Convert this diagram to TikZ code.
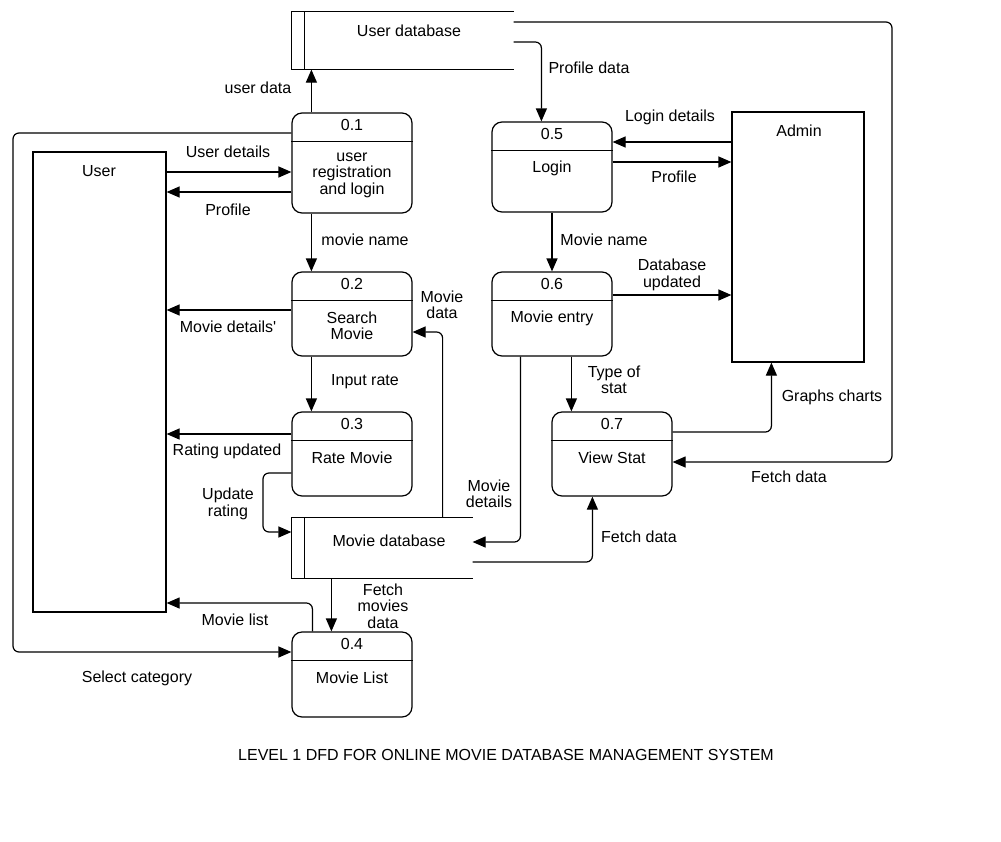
\documentclass[tikz,border=0pt]{standalone}
\usepackage{fontspec}
\setmainfont{Liberation Sans}
\usetikzlibrary{arrows.meta}

\begin{document}
\begin{tikzpicture}[x=1pt, y=-1pt, line width=1.2pt,
  every node/.style={font=\fontsize{16}{16.5}\selectfont, inner sep=0pt, align=center},
  proc/.style={draw, rounded corners=10pt, minimum width=120pt},
  ent/.style={draw, minimum width=133pt},
  store/.style={minimum width=221pt, minimum height=57pt},
  flow/.style={-{Triangle[length=13pt,width=11pt]}, rounded corners=6pt}]
\useasboundingbox[fill=white] (0,0) rectangle (1001,841);

\node[ent, minimum height=460pt] (user) at (99.5,382) {};
\node (usert) at (99,171) {User};
\node[ent, minimum width=132pt, minimum height=250pt] (admin) at (798,237) {};
\node (admint) at (799,131) {Admin};

\node[store] (udb) at (402.5,40.5) {};
\draw (udb.north east) -- (udb.north west) -- (udb.south west) -- (udb.south east);
\draw ([xshift=13pt]udb.north west) -- ([xshift=13pt]udb.south west);
\node (udbt) at (409,31) {User database};
\node[store, minimum width=180pt, minimum height=60pt] (mdb) at (382,548) {};
\draw (mdb.north east) -- (mdb.north west) -- (mdb.south west) -- (mdb.south east);
\draw ([xshift=13pt]mdb.north west) -- ([xshift=13pt]mdb.south west);
\node (mdbt) at (389,541) {Movie database};

\node[proc, minimum height=100pt] (p1) at (352,163) {};
\draw ([yshift=-29pt]p1.north west) -- ([yshift=-29pt]p1.north east);
\node (p1n) at ([yshift=-13pt]p1.north) {0.1};
\node (p1t) at (352,175) {user\\registration\\and login};
\node[proc, minimum height=84pt] (p2) at (352,314) {};
\draw ([yshift=-29pt]p2.north west) -- ([yshift=-29pt]p2.north east);
\node (p2n) at ([yshift=-13pt]p2.north) {0.2};
\node (p2t) at (352,326) {Search\\Movie};
\node[proc, minimum height=84pt] (p3) at (352,454) {};
\draw ([yshift=-29pt]p3.north west) -- ([yshift=-29pt]p3.north east);
\node (p3n) at ([yshift=-13pt]p3.north) {0.3};
\node (p3t) at (352,458) {Rate Movie};
\node[proc, minimum height=85pt] (p4) at (352,674.5) {};
\draw ([yshift=-29pt]p4.north west) -- ([yshift=-29pt]p4.north east);
\node (p4n) at ([yshift=-13pt]p4.north) {0.4};
\node (p4t) at (352,678) {Movie List};
\node[proc, minimum height=90pt] (p5) at (552,167) {};
\draw ([yshift=-29pt]p5.north west) -- ([yshift=-29pt]p5.north east);
\node (p5n) at ([yshift=-13pt]p5.north) {0.5};
\node (p5t) at (552,168) {Login};
\node[proc, minimum height=84pt] (p6) at (552,314) {};
\draw ([yshift=-29pt]p6.north west) -- ([yshift=-29pt]p6.north east);
\node (p6n) at ([yshift=-13pt]p6.north) {0.6};
\node (p6t) at (552,318) {Movie entry};
\node[proc, minimum height=84pt] (p7) at (612,454) {};
\draw ([yshift=-29pt]p7.north west) -- ([yshift=-29pt]p7.north east);
\node (p7n) at ([yshift=-13pt]p7.north) {0.7};
\node (p7t) at (612,458) {View Stat};

\draw[flow] ([xshift=20pt]p1.north west) -- ([xshift=20pt]p1.north west |- udb.south);
\draw[flow] (user.east |- 0,172) -- (p1.west |- 0,172);
\draw[flow] (p1.west |- 0,192) -- (user.east |- 0,192);
\draw[flow] ([xshift=20pt]p1.south west) -- ([xshift=20pt]p2.north west);
\draw[flow] (p2.west |- 0,310) -- (user.east |- 0,310);
\draw[flow] ([xshift=20pt]p2.south west) -- ([xshift=20pt]p3.north west);
\draw[flow] (p3.west |- 0,434) -- (user.east |- 0,434);
\draw[flow] (p3.west |- 0,473) -| (263,500) |- (mdb.west |- 0,532);
\draw[flow] ([xshift=-30pt]mdb.north east) |- (p2.east |- 0,332);
\draw[flow] ([xshift=40pt]mdb.south west) -- ([xshift=40pt]p4.north west);
\draw[flow] ([xshift=21pt]p4.north west) |- (user.east |- 0,603);
\draw[flow] (p1.west |- 0,133) -| (13,400) |- (p4.west |- 0,652);
\draw[flow] (udb.east |- 0,42) -| ([xshift=50pt]p5.north west);
\draw[flow] (admin.west |- 0,142) -- (p5.east |- 0,142);
\draw[flow] (p5.east |- 0,162) -- (admin.west |- 0,162);
\draw[flow] (p5.south) -- (p6.north);
\draw[flow] (p6.east |- 0,295) -- (admin.west |- 0,295);
\draw[flow] ([xshift=29pt]p6.south west) |- (mdb.east |- 0,542);
\draw[flow] ([xshift=80pt]p6.south west) -- ([xshift=20pt]p7.north west);
\draw[flow] (p7.east |- 0,432) -| ([xshift=40pt]admin.south west);
\draw[flow] (udb.east |- 0,22) -| (892,300) |- (p7.east |- 0,462);
\draw[flow] (mdb.east |- 0,562) -| ([xshift=41pt]p7.south west);

\node (lUserData) at (258,88) {user data};
\node (lUserDetails) at (228,152) {User details};
\node (lProfile) at (228,210) {Profile};
\node (lMovieName) at (365,240) {movie name};
\node (lMovieDetailsU) at (228,327) {Movie details\textquotesingle};
\node (lMovieData) at (442,305) {Movie\\data};
\node (lInputRate) at (365,382) {Input rate};
\node (lRatingUpd) at (227,451) {Rating updated};
\node (lUpdateRating) at (228,504) {Update\\rating};
\node (lFetchMovies) at (383,606) {Fetch\\movies\\data};
\node (lMovieList) at (235,620) {Movie list};
\node (lSelectCat) at (137,678) {Select category};
\node (lProfileData) at (589,68) {Profile data};
\node (lLoginDetails) at (670,117) {Login details};
\node (lProfileA) at (674,177) {Profile};
\node (lMovieNameA) at (604,240) {Movie name};
\node (lDbUpdated) at (672,275) {Database\\updated};
\node (lMovieDetails) at (489,494) {Movie\\details};
\node (lTypeStat) at (614,380) {Type of\\stat};
\node (lGraphs) at (832,397) {Graphs charts};
\node (lFetchData) at (789,477) {Fetch data};
\node (lFetchDataB) at (639,537) {Fetch data};

\node (title) at (506,755) {LEVEL 1 DFD FOR ONLINE MOVIE DATABASE MANAGEMENT SYSTEM};
\end{tikzpicture}
\end{document}
